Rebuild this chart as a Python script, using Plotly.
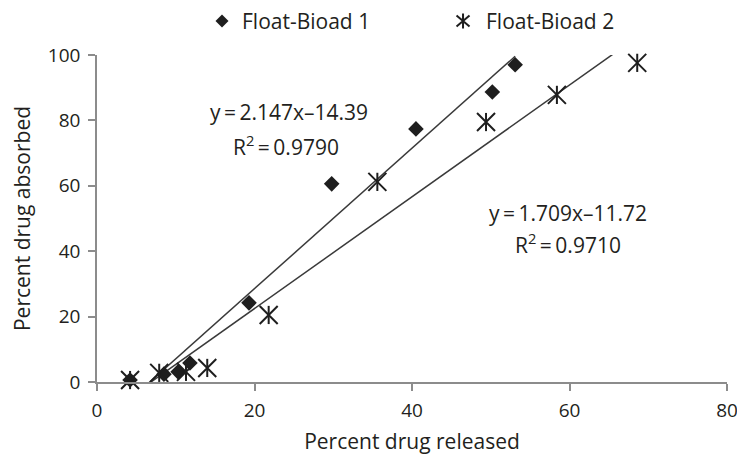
import plotly.graph_objects as go

# Float-Bioad 1
released_1 = [4.2, 8.5, 10.3, 11.8, 19.3, 29.8, 40.5, 50.2, 53.1]
absorbed_1 = [0.6, 2.4, 3.1, 5.8, 24.2, 60.6, 77.4, 88.7, 97.0]
# Float-Bioad 2
released_2 = [4.2, 7.9, 11.3, 14.0, 21.8, 35.6, 49.4, 58.4, 68.6]
absorbed_2 = [0.6, 2.8, 3.1, 4.3, 20.5, 61.2, 79.5, 87.8, 97.6]

# linear fits (slope, intercept, R^2)
fit_1 = (2.147, -14.39, 0.9790)
fit_2 = (1.709, -11.72, 0.9710)

series_names = ["Float-Bioad 1", "Float-Bioad 2"]
x_ticks = [0, 20, 40, 60, 80]
y_ticks = [0, 20, 40, 60, 80, 100]

FONT = "Open Sans"
TXT = "#231f20"
AXIS = "#8c8c8c"
INK = "#1e1e1e"
TEXT_SIZE = 21
TICK_SIZE = 19


def fit_line(xs, fit):
    lo, hi = min(xs), max(xs)
    return [lo, hi], [fit[0] * lo + fit[1], fit[0] * hi + fit[1]]


fig = go.Figure()

for xs, fit in ((released_1, fit_1), (released_2, fit_2)):
    lx, ly = fit_line(xs, fit)
    fig.add_trace(go.Scatter(x=lx, y=ly, mode="lines",
                             line=dict(color="#3a3a3a", width=1.5),
                             showlegend=False, hoverinfo="skip"))

fig.add_trace(go.Scatter(
    x=released_1, y=absorbed_1, mode="markers", name=series_names[0],
    marker=dict(symbol="diamond", size=12, color=INK, line=dict(width=0)),
    cliponaxis=False, showlegend=False))

# six-armed asterisk: an X plus a vertical bar
fig.add_trace(go.Scatter(
    x=released_2, y=absorbed_2, mode="markers", name=series_names[1],
    marker=dict(symbol="x-thin-open", size=18, color=INK,
                line=dict(width=2, color=INK)),
    cliponaxis=False, showlegend=False))
fig.add_trace(go.Scatter(
    x=released_2, y=absorbed_2, mode="markers", name=series_names[1],
    marker=dict(symbol="line-ns-open", size=13, color=INK,
                line=dict(width=2, color=INK)),
    cliponaxis=False, showlegend=False, hoverinfo="skip"))


def eq_text(fit):
    return "y\u2009=\u2009{:.3f}x\u2013{:.2f}".format(fit[0], -fit[1])


def r2_text(fit):
    return "R<sup>2</sup>\u2009=\u2009{:.4f}".format(fit[2])


annotations = [
    dict(x=24.4, y=82.6, text=eq_text(fit_1)),
    dict(x=24.0, y=72.4, text=r2_text(fit_1)),
    dict(x=59.8, y=51.7, text=eq_text(fit_2)),
    dict(x=59.8, y=42.5, text=r2_text(fit_2)),
]
for a in annotations:
    a.update(xref="x", yref="y", showarrow=False,
             font=dict(family=FONT, size=TEXT_SIZE, color=TXT))

# legend keys and labels above the plot
legend_y = 1.104
annotations += [
    dict(x=0.227, y=legend_y, xref="paper", yref="paper", xanchor="left",
         yanchor="middle", text=series_names[0], showarrow=False,
         font=dict(family=FONT, size=TEXT_SIZE, color=TXT)),
    dict(x=0.614, y=legend_y, xref="paper", yref="paper", xanchor="left",
         yanchor="middle", text=series_names[1], showarrow=False,
         font=dict(family=FONT, size=TEXT_SIZE, color=TXT)),
]
shapes = [
    dict(type="path", xref="paper", yref="paper", xsizemode="pixel",
         ysizemode="pixel", xanchor=0.1984, yanchor=legend_y,
         path="M-6.5,0L0,6.5L6.5,0L0,-6.5Z", fillcolor=INK,
         line=dict(width=0)),
    dict(type="path", xref="paper", yref="paper", xsizemode="pixel",
         ysizemode="pixel", xanchor=0.581, yanchor=legend_y,
         path="M-6.5,-5.5L6.5,5.5M-6.5,5.5L6.5,-5.5M0,-7.5L0,7.5",
         line=dict(color=INK, width=2)),
]

axis_common = dict(
    showgrid=False, zeroline=False, showline=True, linecolor=AXIS,
    linewidth=1.5, ticks="outside", ticklen=7, tickwidth=1.5,
    tickcolor=AXIS, automargin=False, ticklabeloverflow="allow",
    tickfont=dict(family=FONT, size=TICK_SIZE, color=TXT),
)

fig.update_layout(
    width=737, height=455,
    margin=dict(l=97, r=10, t=55, b=73),
    paper_bgcolor="white", plot_bgcolor="white",
    showlegend=False,
    annotations=annotations,
    shapes=shapes,
    xaxis=dict(range=[0, 80], tickvals=x_ticks, **axis_common,
               ticklabelstandoff=3,
               title=dict(text="Percent drug released", standoff=20,
                          font=dict(family=FONT, size=TEXT_SIZE, color=TXT))),
    yaxis=dict(range=[0, 100], tickvals=y_ticks, **axis_common,
               ticklabelstandoff=4,
               title=dict(text="Percent drug absorbed", standoff=12,
                          font=dict(family=FONT, size=TEXT_SIZE, color=TXT))),
)

fig.write_html("out.html")
